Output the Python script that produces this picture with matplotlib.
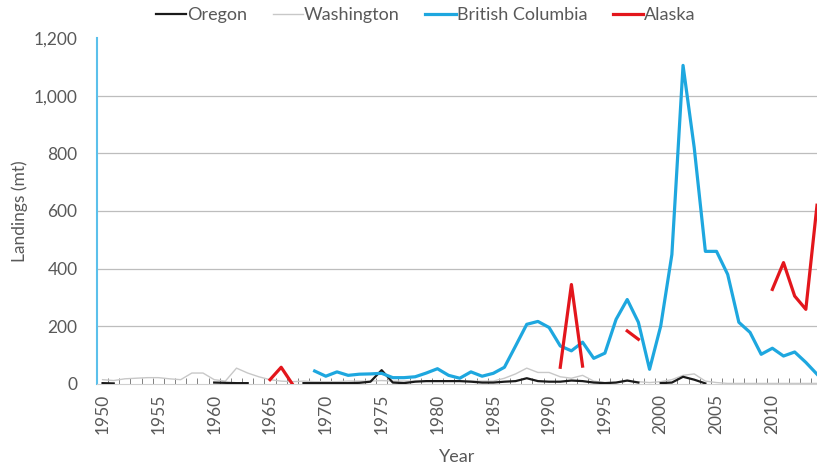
import numpy as np
import matplotlib
matplotlib.use("Agg")
import matplotlib.pyplot as plt

plt.rcParams['font.family'] = ['Lato', 'DejaVu Sans']

nan = np.nan
years = np.arange(1950, 2015)

# landings (mt) by region, one value per year 1950-2014, nan = no data
oregon = [3, 2, nan, nan, nan, nan, nan, nan, nan, nan,
          5, 4, 3, 3, nan, nan, 3, nan, 3, 3,
          3, 3, 3, 4, 8, 48, 5, 3, 8, 10,
          10, 10, 10, 8, 5, 5, 8, 10, 20, 10,
          8, 8, 12, 10, 5, 3, 5, 12, 5, nan,
          3, 5, 25, 15, 2, nan, nan, nan, nan, nan,
          nan, nan, nan, nan, nan]
washington = [15, 12, 18, 20, 22, 22, 18, 15, 38, 38,
              15, 10, 55, 38, 25, 15, 10, 8, 10, 8,
              8, 8, 10, 10, 10, 12, 10, 10, 10, 10,
              10, 10, 10, 10, 10, 10, 20, 35, 55, 40,
              40, 25, 20, 30, 10, 5, 5, 10, 8, 5,
              8, 15, 30, 35, 10, 5, 2, 2, 2, 2,
              2, 2, 2, 2, 2]
british_columbia = [nan] * 19 + [
    45, 27, 42, 30, 34, 35, 37, 22, 22, 25, 38,
    53, 30, 20, 42, 27, 37, 58, 132, 207, 217,
    196, 132, 115, 145, 89, 107, 224, 293, 214, 51,
    201, 449, 1105, 820, 460, 460, 380, 214, 179, 103,
    124, 97, 111, 75, 34]
alaska = [nan] * 15 + [15, 58, 0] + [nan] * 23 + [
    58, 345, 62, nan, nan, nan, 184, 155, nan,
    nan, nan, nan, nan, nan, nan, nan, nan, nan, nan,
    328, 421, 305, 259, 620]

fig = plt.figure(figsize=(8.17, 4.68), dpi=100)
ax = fig.add_axes([0.1187, 0.1795, 0.8813, 0.7393])

ax.plot(years, oregon, color='#1a1a1a', lw=1.6, label='Oregon', zorder=4)
ax.plot(years, washington, color='#c8c8c8', lw=1.0, label='Washington', zorder=3)
ax.plot(years, british_columbia, color='#1ea7df', lw=2.3, label='British Columbia', zorder=5)
ax.plot(years, alaska, color='#e3161c', lw=2.3, label='Alaska', zorder=6)

ax.set_xlim(1949.5, 2014.0)
ax.set_ylim(0, 1200)
ax.set_yticks(range(0, 1201, 200))
ax.set_yticklabels([f'{v:,}' for v in range(0, 1201, 200)])
ax.set_xticks(range(1950, 2015, 5))
ax.set_xticks(np.arange(1950.5, 2014, 1), minor=True)
ax.tick_params(axis='x', which='major', length=0, pad=7, labelrotation=90,
               labelsize=12.5, labelcolor='#595959')
ax.tick_params(axis='x', which='minor', direction='in', length=4,
               width=0.7, color='#808080')
ax.tick_params(axis='y', length=0, pad=14, labelsize=12.5, labelcolor='#595959')

for v in range(200, 1001, 200):
    ax.axhline(v, color='#bdbdbd', lw=0.9, zorder=1)

for s in ['top', 'right']:
    ax.spines[s].set_visible(False)
ax.spines['left'].set_color('#5bc0eb')
ax.spines['left'].set_linewidth(1.5)
ax.spines['bottom'].set_color('#d0d0d0')

ax.set_ylabel('Landings (mt)', fontsize=12.5, color='#595959', labelpad=4)
ax.set_xlabel('Year', fontsize=13, color='#595959', labelpad=11)

fig.legend(loc='center', bbox_to_anchor=(0.521, 0.968), ncol=4, frameon=False,
           fontsize=13, handlelength=1.7, handletextpad=0.05, columnspacing=1.4,
           labelcolor='#595959')

fig.savefig('out.png', dpi=100)
